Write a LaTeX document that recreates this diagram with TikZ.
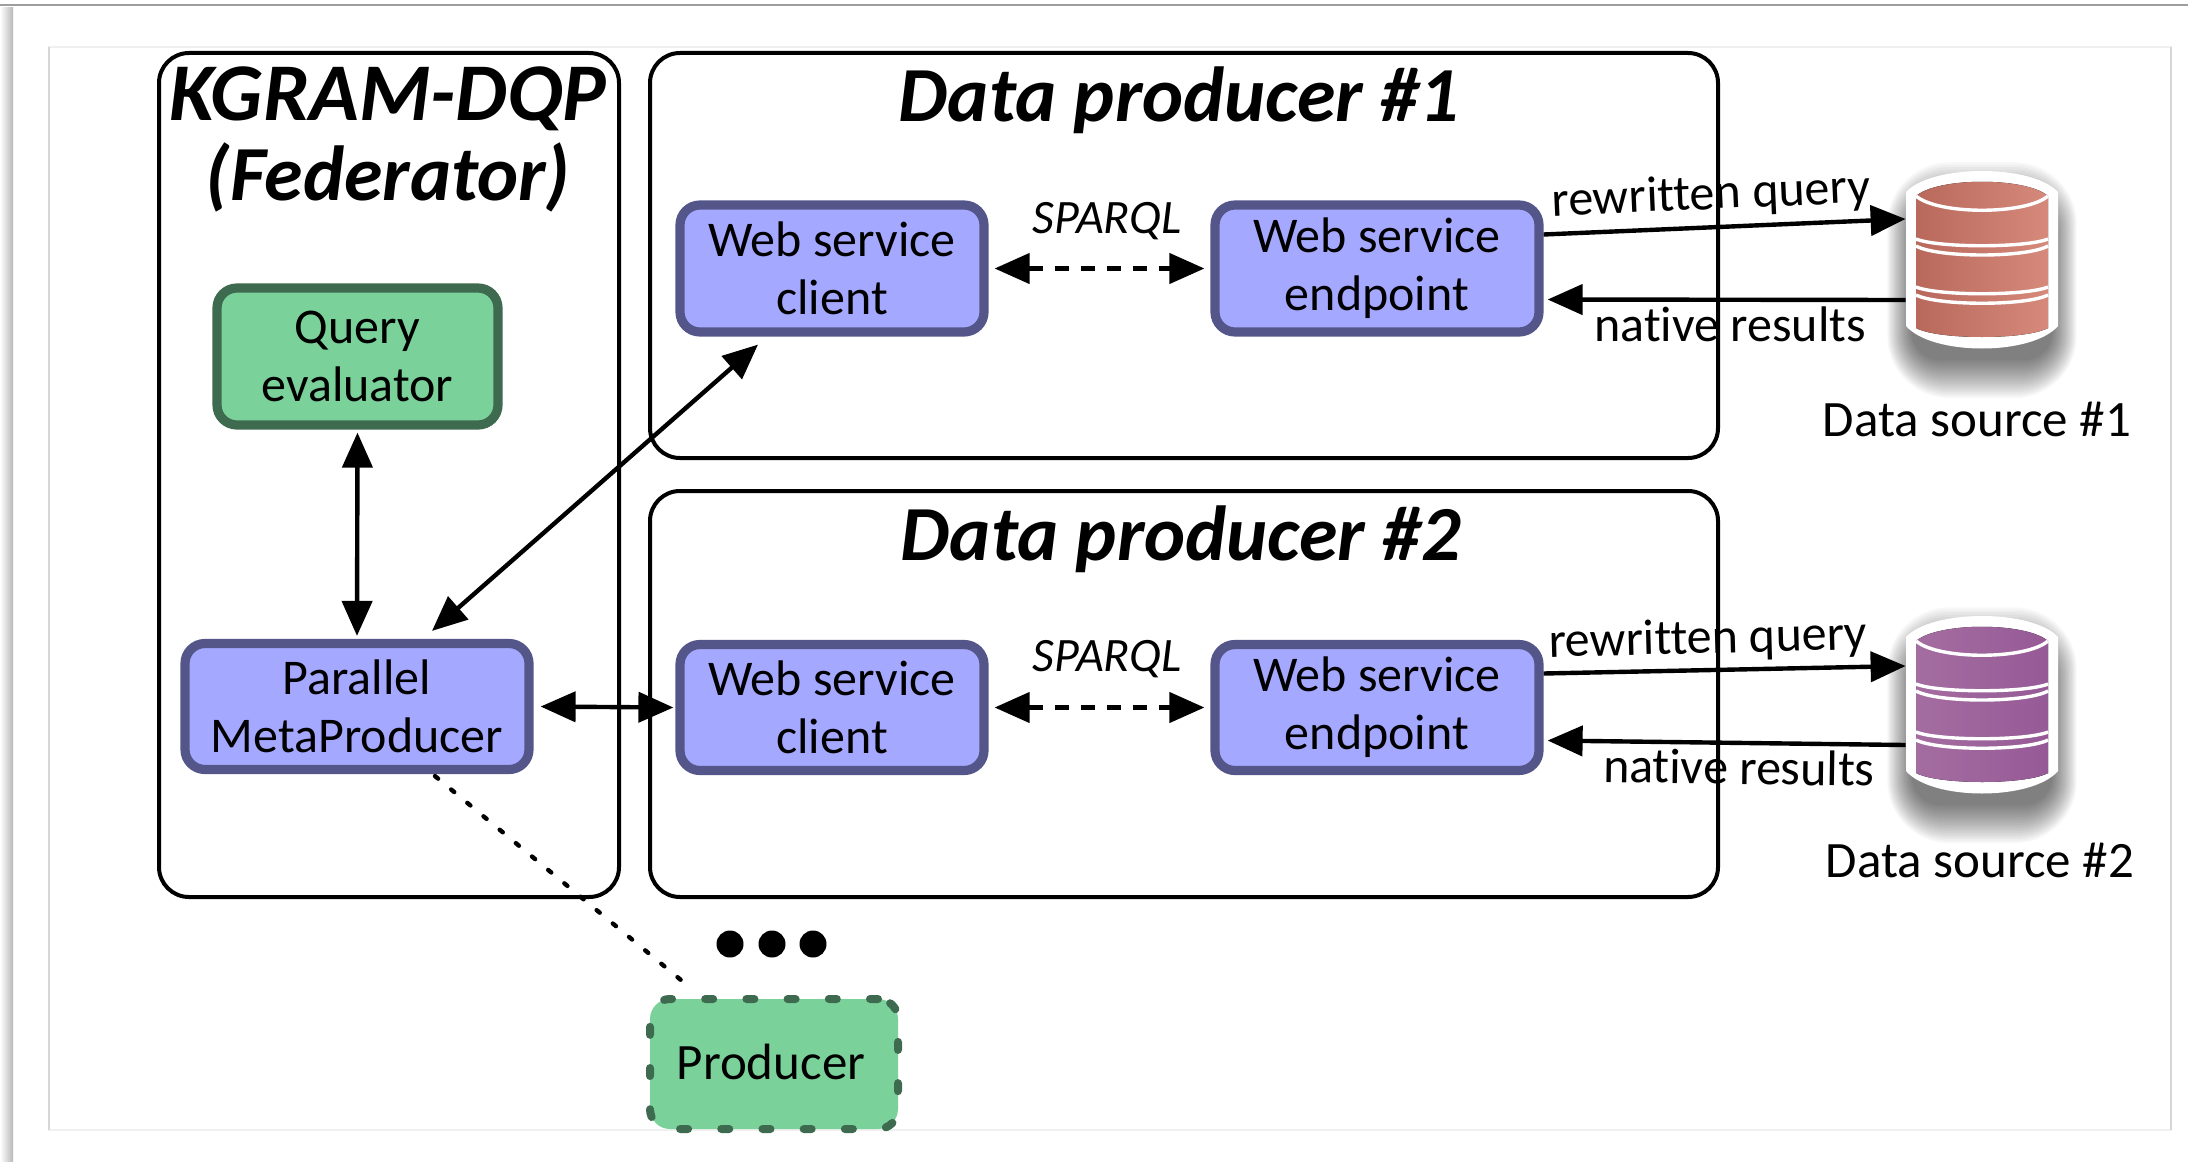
\documentclass[tikz,border=0pt]{standalone}
\usepackage{fontspec}
\setmainfont[Ligatures=NoCommon]{Carlito}
\usetikzlibrary{arrows.meta,calc}
\definecolor{bluefill}{HTML}{A5A8FF}
\definecolor{bluedraw}{HTML}{54568A}
\definecolor{greenfill}{HTML}{7AD19A}
\definecolor{greendraw}{HTML}{3E6B4F}
\definecolor{reddark}{HTML}{B8695B}
\definecolor{redlight}{HTML}{D68A7B}
\definecolor{purpledark}{HTML}{A46DA0}
\definecolor{purplelight}{HTML}{965A97}
\tikzset{
  tip/.tip={Triangle[length=17.5pt,width=15pt]},
  frame/.style={draw=black,line width=2pt,rounded corners=15pt,inner sep=0pt},
  blockbase/.style={rounded corners=10pt,line width=4.6pt,inner sep=0pt,align=center,font=\fontsize{25}{29}\selectfont},
  bluebox/.style={blockbase,draw=bluedraw,fill=bluefill},
  greenbox/.style={blockbase,draw=greendraw,fill=greenfill},
  prodbox/.style={blockbase,line width=4pt,fill=greenfill,draw=greendraw,dash pattern=on 4pt off 16.6pt,line cap=round},
  titletext/.style={font=\fontsize{39}{44}\selectfont\bfseries\itshape,inner sep=0pt},
  lbl/.style={font=\fontsize{25}{28}\selectfont,inner sep=0pt},
  sparql/.style={font=\fontsize{24}{26}\selectfont\itshape,inner sep=0pt},
  conn/.style={line width=2.2pt,{tip}-{tip}},
  oneway/.style={line width=2.2pt,-{tip}},
  dashconn/.style={conn,dash pattern=on 7pt off 6pt},
  dotconn/.style={line width=2.2pt,line cap=round,dash pattern=on 2pt off 8.5pt},
  hole/.style={inner sep=0pt,minimum width=76pt,minimum height=88.5pt},
  ell/.style={circle,fill=black,inner sep=0pt,minimum size=13.5pt},
}
\newcommand{\dbicon}[5]{%
  \node[hole] (#1) at (#2,#3) {};
  \begin{scope}[shift={(#2,#3)}]
    \foreach \k in {0,...,19}{
      \fill[black,opacity=.032,rounded corners={(14+\k*0.9)*1pt}] ({-70-\k*1.3},{-52-\k*2.4}) rectangle ({70+\k*1.3},{100+\k*2.0});
    }
    \fill[white] (-76,-68) .. controls (-50,-96) and (50,-96) .. (76,-68) -- (76,66) .. controls (50,96) and (-50,96) .. (-76,66) -- cycle;
    \fill[left color=#4,right color=#5] (-66,-64) .. controls (-44,-83) and (44,-83) .. (66,-64) -- (66,68) .. controls (44,80) and (-44,80) .. (-66,68) -- cycle;
    \foreach \a/\s in {-64/19,-21/9,-14/12,27/9,35/11}{
      \draw[white,line width=1.7pt] (-66,\a) .. controls (-44,\a+\s) and (44,\a+\s) .. (66,\a);
    }
  \end{scope}
}
\begin{document}
\begin{tikzpicture}[x=0.5pt,y=-0.5pt]
\useasboundingbox (0,0) rectangle (2188,1161);
\fill[white] (0,0) rectangle (2188,1161);
% page chrome
\shade[left color=white,right color=black!28] (0,8) rectangle (13,1161);
\draw[black!38,line width=1.4pt] (0,5) -- (2188,5);
\draw[black!6,line width=.8pt] (49,47) rectangle (2171,1130);
\draw[black!16,line width=1pt] (2171,47) -- (2171,1130);
\draw[black!16,line width=.8pt] (49,47) -- (49,1130);
% frames
\draw[frame] (159,53) rectangle (619,897);
\draw[frame] (650,53) rectangle (1718,458);
\draw[frame] (650,491) rectangle (1718,897);
% data sources
\dbicon{dba}{1982}{260}{reddark}{redlight}
\dbicon{dbb}{1982}{705}{purpledark}{purplelight}
% nodes
\node[greenbox,minimum width=140.5pt,minimum height=68.5pt] (qe) at (357.5,356.5) {Query\\evaluator};
\node[bluebox,minimum width=172pt,minimum height=63pt] (pmp) at (357,706.5) {Parallel\\MetaProducer};
\node[bluebox,minimum width=152pt,minimum height=63.5pt] (wca) at (832,268.5) {Web service\\client};
\node[bluebox,minimum width=162pt,minimum height=63.5pt] (epa) at (1377,268.5) {Web service\\endpoint};
\node[bluebox,minimum width=152pt,minimum height=63pt] (wcb) at (832,707.5) {Web service\\client};
\node[bluebox,minimum width=162pt,minimum height=63pt] (epb) at (1377,707.5) {Web service\\endpoint};
\node[prodbox,minimum width=124pt,minimum height=65pt] (prod) at (774,1064) {};
\node[inner sep=0pt,font=\fontsize{25.5}{29}\selectfont] (prodtext) at (771,1062) {Producer};
\node[ell] (d1) at (730,944) {};
\node[ell] (d2) at (772,944) {};
\node[ell] (d3) at (813,944) {};
% titles
\node[titletext,font=\fontsize{41}{44}\selectfont\bfseries\itshape] (ta) at (388,99) {KGRAM-DQP};
\node[titletext] (tb) at (388,177) {(Federator)};
\node[titletext] (tc) at (1179,100) {Data producer \#1};
\node[titletext] (td) at (1181,539) {Data producer \#2};
% labels
\node[sparql] (sa) at (1107,221) {SPARQL};
\node[sparql] (sb) at (1107,659) {SPARQL};
\node[lbl,rotate=2.5] (ra) at (1711,196) {rewritten query};
\node[lbl] (na) at (1730,324) {native results};
\node[lbl,rotate=1.5] (rb) at (1708,640) {rewritten query};
\node[lbl,rotate=-0.8] (nb) at (1739,767) {native results};
\node[lbl,font=\fontsize{25.5}{28}\selectfont] (la) at (1977,419) {Data source \#1};
\node[lbl,font=\fontsize{25.5}{28}\selectfont] (lb) at (1980,860) {Data source \#2};
% connectors
\draw[conn,shorten <=1.5pt,shorten >=1.5pt] (qe.south) -- (pmp.north);
\draw[conn] ($(pmp.north)+(75,-8)$) -- ($(wca.south)+(-74,8)$);
\draw[conn,shorten <=1.5pt,shorten >=-1pt] ($(pmp.east)+(4,0)$) -- ($(wcb.west)+(-4,0)$);
\draw[dashconn] ($(wca.east)+(6,0)$) -- ($(epa.west)+(-6,0)$);
\draw[dashconn] ($(wcb.east)+(6,0)$) -- ($(epb.west)+(-6,0)$);
\draw[oneway] ($(epa.east)+(0,-34)$) -- ($(dba.west)+(0,-41)$);
\draw[oneway] ($(dba.west)+(0,40)$) -- ($(epa.east)+(4,31)$);
\draw[oneway] ($(epb.east)+(0,-34)$) -- ($(dbb.west)+(0,-39)$);
\draw[oneway] ($(dbb.west)+(0,40)$) -- ($(epb.east)+(4,33)$);
\draw[dotconn] ($(pmp.south)+(78,2)$) -- ($(prod.north)+(-81,-5)$);
\end{tikzpicture}
\end{document}
